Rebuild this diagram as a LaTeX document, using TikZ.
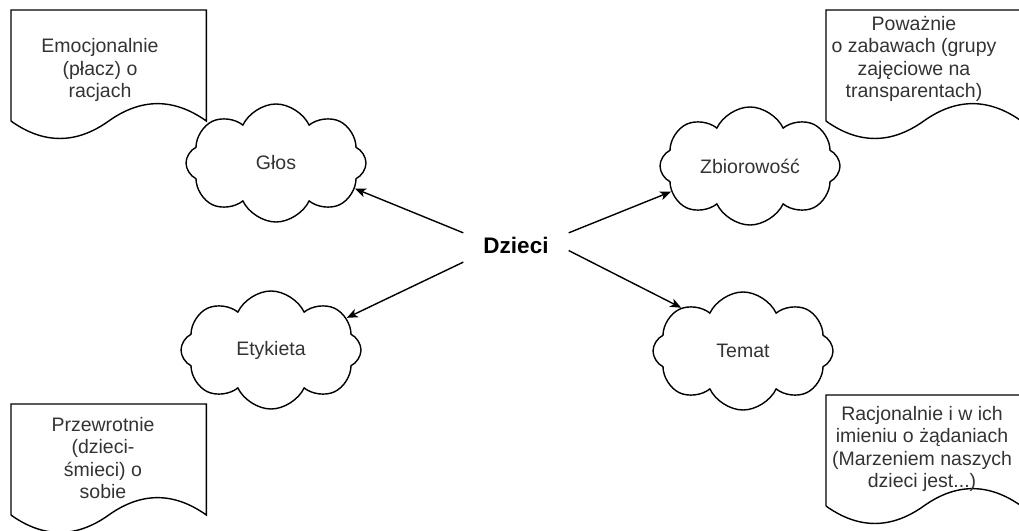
\documentclass[tikz,border=0pt]{standalone}
\usepackage{fontspec}
\setmainfont{Liberation Sans}
\usetikzlibrary{shapes.symbols,calc,arrows.meta}

\definecolor{txtgray}{HTML}{333333}

% kartka z falistym dolem
\newcommand{\docoutline}[1]{%
  \draw[docline] ($(#1.south west)+(0,19.35pt)$) -- (#1.north west) -- (#1.north east)
    -- ($(#1.south east)+(0,19.35pt)$)
    .. controls ($(#1.south west)!5/6!(#1.south east)+(0,42.57pt)$)
            and ($(#1.south west)!2/3!(#1.south east)+(0,42.57pt)$)
    .. ($(#1.south)+(0,19.35pt)$)
    .. controls ($(#1.south west)!1/3!(#1.south east)+(0,-3.87pt)$)
            and ($(#1.south west)!1/6!(#1.south east)+(0,-3.87pt)$)
    .. ($(#1.south west)+(0,19.35pt)$);}

\begin{document}
\begin{tikzpicture}[x=1pt,y=-1pt,->,>={Stealth[length=11pt,width=9pt,inset=3pt]},line width=1.4pt,
    font=\fontsize{19.5}{22.5}\selectfont]
  \tikzstyle{blob}=[cloud,cloud puffs=8,cloud puff arc=130,cloud ignores aspect,draw,
    minimum width=180pt,minimum height=118pt,inner sep=0pt,text=txtgray]
  \tikzstyle{sheet}=[rectangle,minimum width=194pt,minimum height=129pt,inner sep=0pt,anchor=north west]
  \tikzstyle{note}=[align=center,text=txtgray,inner sep=0pt]
  \tikzstyle{docline}=[-,line width=1.4pt]
  \useasboundingbox (0,0) rectangle (1019,530);

  \node [font=\fontsize{22.5}{26}\selectfont\bfseries,minimum width=104pt,
    minimum height=36pt,inner sep=0pt] (dz) at (516,245) {Dzieci};

  \node [blob] (glos) at (276,163) {Głos};
  \node [blob] (zbior) at (750,166) {Zbiorowość};
  \node [blob] (etyk) at (271,350) {Etykieta};
  \node [blob] (temat) at (743,351) {Temat};

  \node [sheet] (k1) at (11,10) {};
  \node [sheet] (k2) at (826,10) {};
  \node [sheet] (k3) at (11,404) {};
  \node [sheet] (k4) at (826,395) {};
  \docoutline{k1}
  \docoutline{k2}
  \docoutline{k3}
  \docoutline{k4}

  \node [note] (t1) at (100,70) {Emocjonalnie\\(płacz) o\\racjach};
  \node [note] (t2) at (914,59) {Poważnie\\o zabawach (grupy\\zajęciowe na\\transparentach)};
  \node [note] (t3) at (103,458) {Przewrotnie\\(dzieci-\\śmieci) o\\sobie};
  \node [note] (t4) at (922,449) {Racjonalnie i w ich\\imieniu o żądaniach\\(Marzeniem naszych\\dzieci jest...)};

  \path (dz.167) edge (glos.-18)
        (dz.13) edge (zbior.198)
        (dz.198) edge (etyk.23)
        (dz.-6) edge (temat.145);
\end{tikzpicture}
\end{document}
